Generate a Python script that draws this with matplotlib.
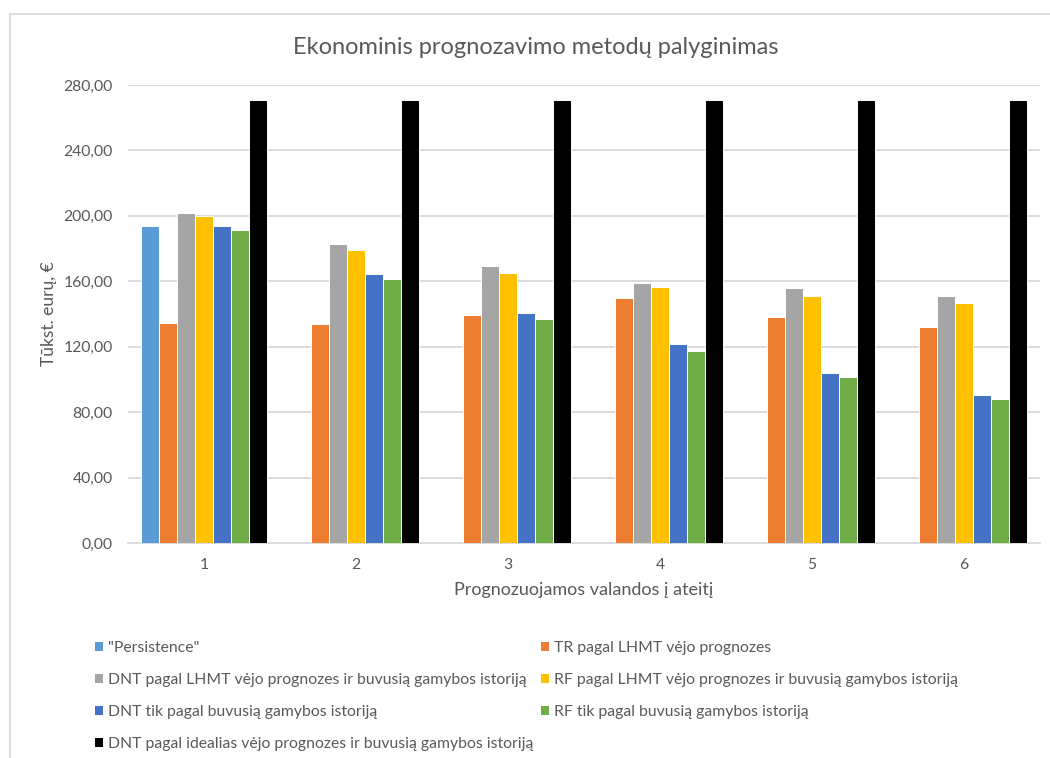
import matplotlib
matplotlib.use("Agg")
import matplotlib.pyplot as plt
from matplotlib.patches import Patch, Rectangle
import numpy as np

plt.rcParams['font.family'] = ['Lato', 'DejaVu Sans']

# Duomenys
valandos = [1, 2, 3, 4, 5, 6]
serijos = [
    '"Persistence"',
    "TR pagal LHMT vėjo prognozes",
    "DNT pagal LHMT vėjo prognozes ir buvusią gamybos istoriją",
    "RF pagal LHMT vėjo prognozes ir buvusią gamybos istoriją",
    "DNT tik pagal buvusią gamybos istoriją",
    "RF tik pagal buvusią gamybos istoriją",
    "DNT pagal idealias vėjo prognozes ir buvusią gamybos istoriją",
]
persistence = [193.8, 0, 0, 0, 0, 0]
tr_lhmt = [134.8, 133.8, 139.3, 149.5, 138.3, 132.0]
dnt_lhmt = [201.8, 182.6, 169.2, 159.0, 156.2, 151.1]
rf_lhmt = [200.2, 179.2, 165.3, 156.4, 150.7, 146.6]
dnt_tik = [193.8, 164.3, 140.5, 121.4, 103.8, 90.6]
rf_tik = [191.2, 161.3, 137.2, 117.5, 101.2, 87.8]
dnt_ideal = [271.0, 271.0, 271.0, 271.0, 271.0, 271.0]
y_ticks = [0, 40, 80, 120, 160, 200, 240, 280]

reiksmes = [persistence, tr_lhmt, dnt_lhmt, rf_lhmt, dnt_tik, rf_tik, dnt_ideal]
spalvos = ["#5b9bd5", "#ed7d31", "#a5a5a5", "#ffc000", "#4472c4", "#70ad47", "#000000"]
tekstas = "#595959"
tinklelis = "#d9d9d9"

W, H = 1050, 758
fig = plt.figure(figsize=(W / 100, H / 100), dpi=100)

# remelis aplink diagrama
fig.patches.append(Rectangle((10 / W, -0.1), 1.2, (H - 14) / H + 0.1,
                             transform=fig.transFigure, fill=False,
                             edgecolor=tinklelis, linewidth=1.2))

ax = fig.add_axes([128 / W, (H - 543) / H, (1040 - 128) / W, (543 - 85) / H])

x = np.arange(len(valandos))
zingsnis = 0.1184
for i, (vals, c) in enumerate(zip(reiksmes, spalvos)):
    ax.bar(x + (i - 3) * zingsnis, vals, width=zingsnis * 0.97, color=c,
           edgecolor="white", linewidth=0.7, label=serijos[i], zorder=3)

ax.set_xlim(-0.5, len(valandos) - 0.5)
ax.set_ylim(0, 280)
ax.set_yticks(y_ticks)
ax.set_yticklabels([f"{v:.2f}".replace(".", ",") for v in y_ticks])
ax.set_xticks(x)
ax.set_xticklabels([str(v) for v in valandos])
ax.tick_params(length=0, labelsize=11.3, labelcolor=tekstas)
ax.tick_params(axis="y", pad=11)
ax.tick_params(axis="x", pad=11)
ax.grid(axis="y", color=tinklelis, linewidth=1.3, zorder=0)
for s in ["top", "right", "left"]:
    ax.spines[s].set_visible(False)
ax.spines["bottom"].set_color(tinklelis)
ax.spines["bottom"].set_linewidth(1.3)

ax.set_xlabel("Prognozuojamos valandos į ateitį", fontsize=13, color=tekstas, labelpad=7)
ax.set_ylabel("Tūkst. eurų, €", fontsize=12.5, color=tekstas, labelpad=5)
fig.text(536 / W, 1 - 47 / H, "Ekonominis prognozavimo metodų palyginimas",
         ha="center", va="center", fontsize=17, color=tekstas)

# legenda dviem stulpeliais
rankenos = [Patch(facecolor=c, edgecolor="none") for c in spalvos]
stulp1 = [0, 2, 4, 6]
stulp2 = [1, 3, 5]
for idx, xpos in [(stulp1, 95), (stulp2, 541)]:
    leg = fig.legend([rankenos[i] for i in idx], [serijos[i] for i in idx],
                     loc="upper left", bbox_to_anchor=(xpos / W, 1 - 641 / H),
                     frameon=False, fontsize=11.3, borderpad=0, borderaxespad=0,
                     handlelength=0.5, handleheight=0.5, handletextpad=0.3,
                     labelspacing=1.15, labelcolor=tekstas)

fig.savefig("out.png", dpi=100)
